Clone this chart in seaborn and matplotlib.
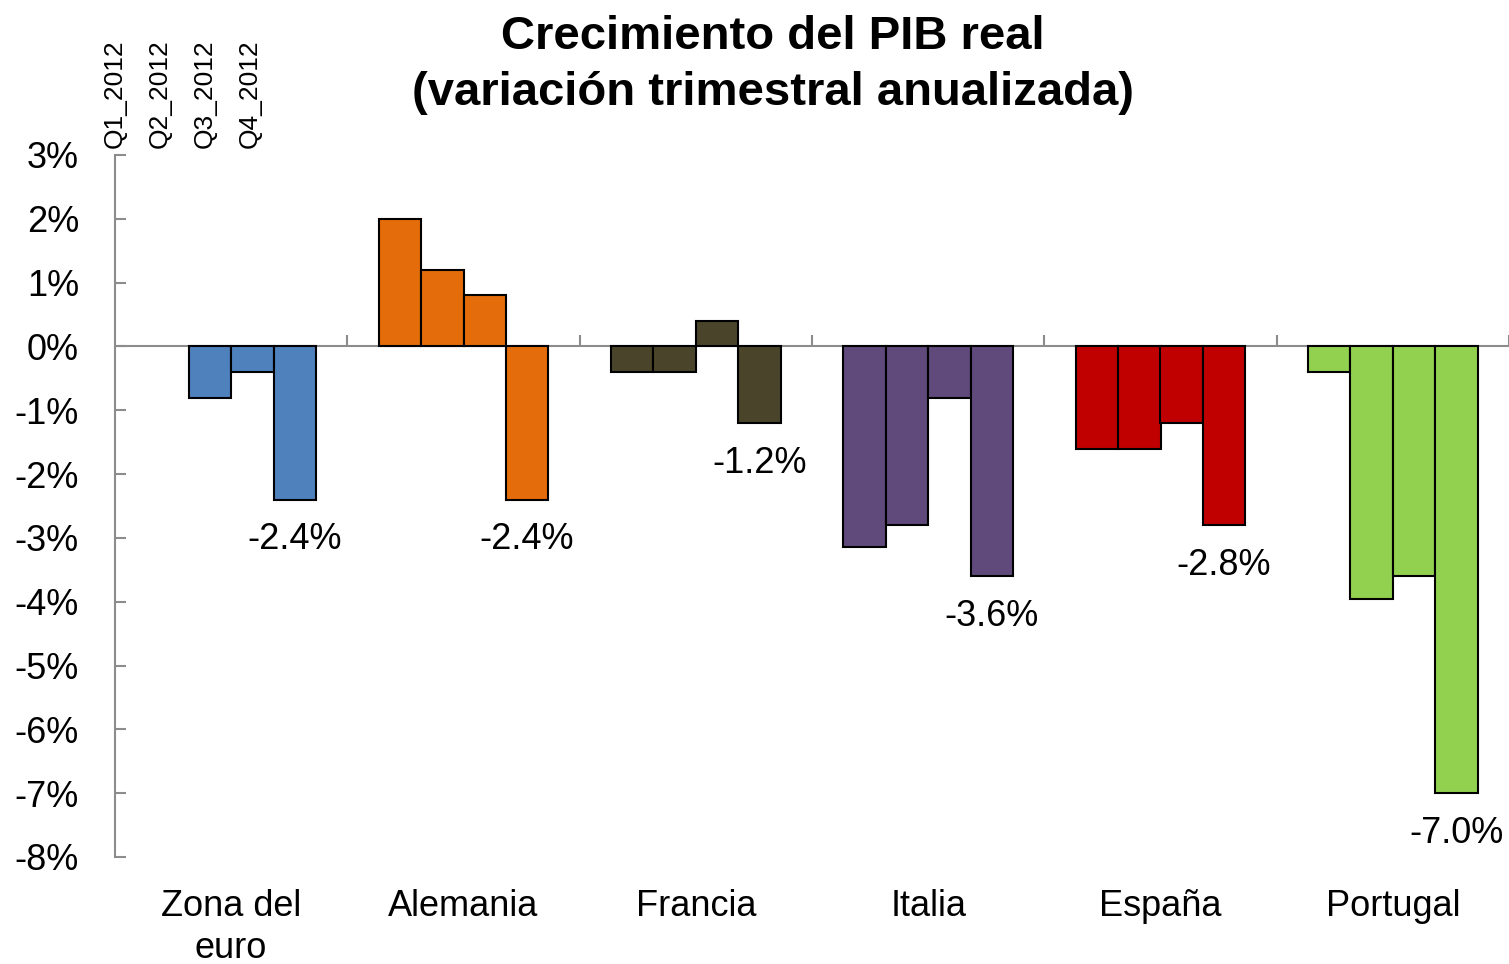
import matplotlib
matplotlib.use("Agg")
import matplotlib.pyplot as plt
import matplotlib.transforms as mtransforms
import seaborn as sns
import pandas as pd

# datos
paises = ["Zona del\neuro", "Alemania", "Francia", "Italia", "España", "Portugal"]
trimestres = ["Q1_2012", "Q2_2012", "Q3_2012", "Q4_2012"]
zona_euro = [0.0, -0.8, -0.4, -2.4]
alemania = [2.0, 1.2, 0.8, -2.4]
francia = [-0.4, -0.4, 0.4, -1.2]
italia = [-3.15, -2.8, -0.8, -3.6]
espana = [-1.6, -1.6, -1.2, -2.8]
portugal = [-0.4, -3.95, -3.6, -7.0]
colores = ["#4F81BD", "#E46C0A", "#4A452A", "#604A7B", "#C00000", "#92D050"]

series = [zona_euro, alemania, francia, italia, espana, portugal]
filas = []
for p, vals in zip(paises, series):
    for q, v in zip(trimestres, vals):
        filas.append({"pais": p, "trimestre": q, "valor": v})
df = pd.DataFrame(filas)

sns.set_style("white")
plt.rcParams["font.family"] = ["Liberation Sans", "DejaVu Sans"]
plt.rcParams["text.color"] = "black"
plt.rcParams["xtick.color"] = "black"
plt.rcParams["ytick.color"] = "black"

fig = plt.figure(figsize=(15.09, 9.64), dpi=100)
ax = fig.add_axes([115 / 1509, 1 - 857 / 964, 1 - 115 / 1509, 702 / 964])

sns.barplot(data=df, x="pais", y="valor", hue="trimestre", order=paises,
            hue_order=trimestres, width=0.73, legend=False, ax=ax,
            edgecolor="black", linewidth=1.5, errorbar=None)

# color por pais
for patch in ax.patches:
    xc = patch.get_x() + patch.get_width() / 2
    i = int(round(xc))
    if 0 <= i < len(colores):
        patch.set_facecolor(colores[i])
    if abs(patch.get_height()) < 1e-9:
        patch.set_linewidth(0)

ax.set_xlim(-0.5, 5.5)
ax.set_ylim(-8, 3)
ax.set_yticks(range(-8, 4))
ax.set_yticklabels([f"{v}%" for v in range(-8, 4)], fontsize=26)
ax.set_xticks([0.5, 1.5, 2.5, 3.5, 4.5, 5.5])
ax.set_xticklabels([])
ax.set_xlabel("")
ax.set_ylabel("")

gris = "#8C8C8C"
for s in ["top", "right"]:
    ax.spines[s].set_visible(False)
ax.spines["left"].set_color(gris)
ax.spines["left"].set_linewidth(1.5)
ax.spines["bottom"].set_position(("data", 0))
ax.spines["bottom"].set_color(gris)
ax.spines["bottom"].set_linewidth(1.5)
ax.spines["bottom"].set_zorder(0.5)
ax.tick_params(axis="y", left=True, direction="in", length=8, width=1.5,
               color=gris, labelcolor="black", pad=26)
ax.tick_params(axis="x", bottom=True, direction="in", length=8, width=1.5,
               color=gris)

# etiquetas de paises debajo del grafico
trans = mtransforms.blended_transform_factory(ax.transData, ax.transAxes)
for i, p in enumerate(paises):
    ax.text(i, -0.045, p, transform=trans, ha="center", va="top",
            fontsize=26, linespacing=1.28)

# etiquetas del ultimo trimestre
for i, vals in enumerate(series):
    xc = i + 0.73 * (3.5 / 4 - 0.5)
    ax.annotate(f"{vals[-1]:.1f}%", xy=(xc, vals[-1]), xytext=(0, -29),
                textcoords="offset points", ha="center", va="center",
                fontsize=26)

# trimestres arriba a la izquierda
for k, q in enumerate(trimestres):
    fig.text((115 + 45 * k) / 1509, 1 - 148 / 964, q, rotation=90,
             ha="center", va="bottom", fontsize=19)

fig.text(0.512, 0.984, "Crecimiento del PIB real\n(variación trimestral anualizada)",
         ha="center", va="top", fontsize=34, fontweight="bold", linespacing=1.35)

fig.savefig("out.png", dpi=100)
